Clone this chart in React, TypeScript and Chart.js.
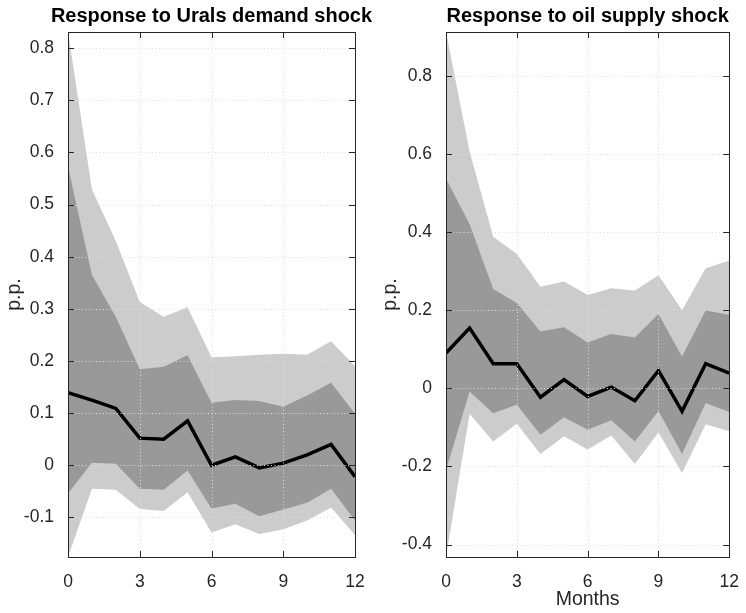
import React, { useEffect, useRef } from "react";
import { Chart, registerables } from "chart.js";

Chart.register(...registerables);

const MONTHS = [0, 1, 2, 3, 4, 5, 6, 7, 8, 9, 10, 11, 12];
const X_TICKS = [0, 3, 6, 9, 12];

// Left panel: Response to Urals demand shock
const URALS_MEDIAN = [0.139, 0.125, 0.109, 0.052, 0.05, 0.085, 0.0, 0.016, -0.005, 0.004, 0.02, 0.04, -0.022];
const URALS_INNER_UPPER = [0.573, 0.365, 0.285, 0.184, 0.189, 0.211, 0.12, 0.125, 0.123, 0.112, 0.134, 0.158, 0.099];
const URALS_INNER_LOWER = [-0.054, 0.005, 0.003, -0.045, -0.047, -0.01, -0.083, -0.074, -0.098, -0.085, -0.072, -0.045, -0.106];
const URALS_OUTER_UPPER = [0.831, 0.529, 0.43, 0.313, 0.285, 0.303, 0.207, 0.209, 0.212, 0.214, 0.212, 0.238, 0.19];
const URALS_OUTER_LOWER = [-0.176, -0.045, -0.047, -0.084, -0.088, -0.052, -0.129, -0.113, -0.132, -0.123, -0.106, -0.081, -0.134];
const URALS_Y_TICKS = [-0.1, 0, 0.1, 0.2, 0.3, 0.4, 0.5, 0.6, 0.7, 0.8];
const URALS_Y_RANGE = [-0.176, 0.831];

// Right panel: Response to oil supply shock
const OIL_MEDIAN = [0.09, 0.154, 0.063, 0.063, -0.023, 0.022, -0.021, 0.003, -0.032, 0.045, -0.059, 0.063, 0.039];
const OIL_INNER_UPPER = [0.537, 0.42, 0.254, 0.218, 0.145, 0.156, 0.117, 0.139, 0.13, 0.19, 0.081, 0.199, 0.188];
const OIL_INNER_LOWER = [-0.21, -0.008, -0.064, -0.042, -0.119, -0.074, -0.106, -0.082, -0.136, -0.058, -0.168, -0.038, -0.061];
const OIL_OUTER_UPPER = [0.912, 0.606, 0.388, 0.344, 0.26, 0.273, 0.239, 0.256, 0.25, 0.289, 0.2, 0.307, 0.327];
const OIL_OUTER_LOWER = [-0.432, -0.065, -0.136, -0.091, -0.168, -0.123, -0.157, -0.121, -0.194, -0.113, -0.217, -0.092, -0.11];
const OIL_Y_TICKS = [-0.4, -0.2, 0, 0.2, 0.4, 0.6, 0.8];
const OIL_Y_RANGE = [-0.432, 0.912];

const FONT = "'Liberation Sans', Arial, Helvetica, sans-serif";
const AXIS_COLOR = "#262626";
const LIGHT = "#cccccc";
const DARK = "#999999";

const toPts = (arr: number[]) => MONTHS.map((m, i) => ({ x: m, y: arr[i] }));

const matlabAxes = {
  id: "matlabAxes",
  afterDatasetsDraw(chart: any) {
    const { ctx, chartArea } = chart;
    const { left, right, top, bottom } = chartArea;
    const xs = chart.scales.x;
    const ys = chart.scales.y;
    ctx.save();
    // dotted grid on top of the bands
    ctx.strokeStyle = "#dedede";
    ctx.lineWidth = 1;
    ctx.setLineDash([1, 2.5]);
    for (const t of xs.ticks) {
      const px = Math.round(xs.getPixelForValue(t.value)) + 0.5;
      if (px <= left + 1 || px >= right - 1) continue;
      ctx.beginPath();
      ctx.moveTo(px, top);
      ctx.lineTo(px, bottom);
      ctx.stroke();
    }
    for (const t of ys.ticks) {
      const py = Math.round(ys.getPixelForValue(t.value)) + 0.5;
      if (py <= top + 1 || py >= bottom - 1) continue;
      ctx.beginPath();
      ctx.moveTo(left, py);
      ctx.lineTo(right, py);
      ctx.stroke();
    }
    ctx.setLineDash([]);
    // box
    ctx.strokeStyle = AXIS_COLOR;
    ctx.lineWidth = 1;
    ctx.strokeRect(Math.round(left) + 0.5, Math.round(top) + 0.5, Math.round(right - left), Math.round(bottom - top));
    // inward tick marks
    const tl = 6;
    ctx.beginPath();
    for (const t of xs.ticks) {
      const px = Math.round(xs.getPixelForValue(t.value)) + 0.5;
      ctx.moveTo(px, bottom);
      ctx.lineTo(px, bottom - tl);
      ctx.moveTo(px, top);
      ctx.lineTo(px, top + tl);
    }
    for (const t of ys.ticks) {
      const py = Math.round(ys.getPixelForValue(t.value)) + 0.5;
      ctx.moveTo(left, py);
      ctx.lineTo(left + tl, py);
      ctx.moveTo(right, py);
      ctx.lineTo(right - tl, py);
    }
    ctx.stroke();
    // title, centred over the axes box (not squeezed)
    const title = chart.options.plugins.panelTitle?.text;
    if (title) {
      ctx.fillStyle = "#000000";
      ctx.font = `bold 20px ${FONT}`;
      ctx.textAlign = "center";
      ctx.textBaseline = "middle";
      ctx.fillText(title, (left + right) / 2, 16.5);
    }
    ctx.restore();
  },
};

type PanelProps = {
  title: string;
  median: number[];
  innerUpper: number[];
  innerLower: number[];
  outerUpper: number[];
  outerLower: number[];
  yTicks: number[];
  yRange: number[];
  xTitle: string;
  yAxisWidth: number;
  rightPad: number;
  yTitlePad: number;
  left: number;
};

function Panel(p: PanelProps) {
  const ref = useRef<HTMLCanvasElement | null>(null);
  useEffect(() => {
    if (!ref.current) return;
    const chart = new Chart(ref.current, {
      type: "line",
      data: {
        datasets: [
          {
            data: toPts(p.median),
            borderColor: "#000000",
            borderWidth: 3.5,
            pointRadius: 0,
            fill: false,
            order: 0,
            tension: 0,
          },
          {
            data: toPts(p.innerUpper),
            borderWidth: 0,
            borderColor: DARK,
            backgroundColor: DARK,
            pointRadius: 0,
            fill: "+1",
            order: 1,
          },
          {
            data: toPts(p.innerLower),
            borderWidth: 0,
            borderColor: DARK,
            pointRadius: 0,
            fill: false,
            order: 1,
          },
          {
            data: toPts(p.outerUpper),
            borderWidth: 0,
            borderColor: LIGHT,
            backgroundColor: LIGHT,
            pointRadius: 0,
            fill: "+1",
            order: 2,
          },
          {
            data: toPts(p.outerLower),
            borderWidth: 0,
            borderColor: LIGHT,
            pointRadius: 0,
            fill: false,
            order: 2,
          },
        ],
      },
      options: {
        animation: false,
        responsive: false,
        maintainAspectRatio: false,
        events: [],
        layout: { padding: { left: 0, right: p.rightPad, top: 32, bottom: 0 } },
        plugins: {
          legend: { display: false },
          tooltip: { enabled: false },
          title: { display: false },
          panelTitle: { text: p.title },
        },
        scales: {
          x: {
            type: "linear",
            min: 0,
            max: 12,
            grid: { display: false },
            border: { display: false },
            afterBuildTicks: (s: any) => {
              s.ticks = X_TICKS.map((v) => ({ value: v }));
            },
            afterFit: (s: any) => {
              s.height = 56;
            },
            ticks: {
              autoSkip: false,
              maxRotation: 0,
              padding: 7,
              color: AXIS_COLOR,
              font: { family: FONT, size: 17.5 },
              callback: (v: any) => String(v),
            },
            title: {
              display: p.xTitle !== "",
              text: p.xTitle,
              color: AXIS_COLOR,
              font: { family: FONT, size: 19.5 },
              padding: { top: 0, bottom: 1.5 },
            },
          },
          y: {
            type: "linear",
            min: p.yRange[0],
            max: p.yRange[1],
            grid: { display: false },
            border: { display: false },
            afterBuildTicks: (s: any) => {
              s.ticks = p.yTicks.map((v) => ({ value: v }));
            },
            afterFit: (s: any) => {
              s.width = p.yAxisWidth;
            },
            ticks: {
              autoSkip: false,
              padding: 6,
              color: AXIS_COLOR,
              font: { family: FONT, size: 17.5 },
              callback: (v: any) => String(Math.round(v * 10) / 10),
            },
            title: {
              display: true,
              text: "p.p.",
              color: AXIS_COLOR,
              font: { family: FONT, size: 19.5 },
              padding: { top: p.yTitlePad, bottom: 0 },
            },
          },
        },
      },
      plugins: [matlabAxes],
    } as any);
    return () => chart.destroy();
  }, []);
  return (
    <canvas
      ref={ref}
      width={373}
      height={613}
      style={{ position: "absolute", left: p.left, top: 0, width: 373, height: 613 }}
    />
  );
}

export default function App() {
  return (
    <div style={{ position: "absolute", left: 0, top: 0, width: 746, height: 613, background: "#ffffff" }}>
      <Panel
        title="Response to Urals demand shock"
        median={URALS_MEDIAN}
        innerUpper={URALS_INNER_UPPER}
        innerLower={URALS_INNER_LOWER}
        outerUpper={URALS_OUTER_UPPER}
        outerLower={URALS_OUTER_LOWER}
        yTicks={URALS_Y_TICKS}
        yRange={URALS_Y_RANGE}
        xTitle=""
        yAxisWidth={68}
        rightPad={18}
        yTitlePad={3}
        left={0}
      />
      <Panel
        title="Response to oil supply shock"
        median={OIL_MEDIAN}
        innerUpper={OIL_INNER_UPPER}
        innerLower={OIL_INNER_LOWER}
        outerUpper={OIL_OUTER_UPPER}
        outerLower={OIL_OUTER_LOWER}
        yTicks={OIL_Y_TICKS}
        yRange={OIL_Y_RANGE}
        xTitle="Months"
        yAxisWidth={73}
        rightPad={11}
        yTitlePad={6}
        left={373}
      />
    </div>
  );
}
